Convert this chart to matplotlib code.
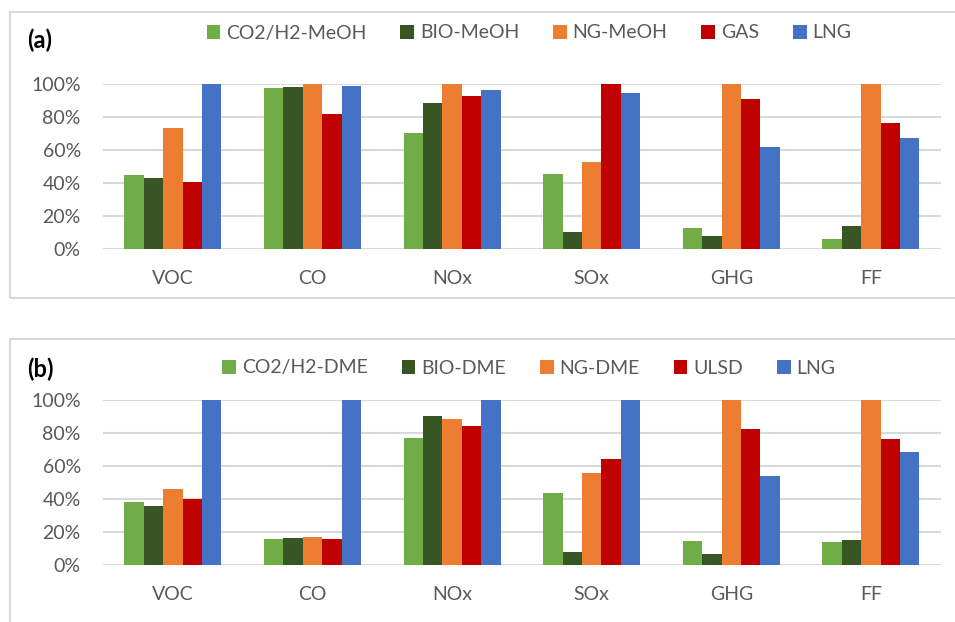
import numpy as np
import matplotlib.pyplot as plt
from matplotlib.patches import Rectangle
from matplotlib.ticker import PercentFormatter

plt.rcParams['font.family'] = ['Lato', 'DejaVu Sans']

categories = ['VOC', 'CO', 'NOx', 'SOx', 'GHG', 'FF']

# panel (a): methanol pathways
labels_a = ['CO2/H2-MeOH', 'BIO-MeOH', 'NG-MeOH', 'GAS', 'LNG']
co2_meoh = [44.7, 97.4, 70.0, 45.5, 12.7, 6.2]
bio_meoh = [43.3, 98.0, 88.5, 10.5, 7.8, 14.3]
ng_meoh = [73.0, 100, 100, 52.7, 100, 100]
gas = [40.4, 81.5, 92.6, 100, 90.9, 76.5]
lng_a = [100, 98.4, 96.2, 94.2, 61.6, 67.2]

# panel (b): DME pathways
labels_b = ['CO2/H2-DME', 'BIO-DME', 'NG-DME', 'ULSD', 'LNG']
co2_dme = [38.4, 16.0, 77.0, 43.8, 14.9, 14.3]
bio_dme = [35.8, 16.4, 90.5, 8.3, 7.1, 15.4]
ng_dme = [46.1, 17.4, 88.7, 55.8, 100, 100]
ulsd = [40.2, 16.0, 84.6, 64.2, 82.6, 76.4]
lng_b = [100, 100, 100, 100, 54.1, 68.7]

colors = ['#70AD47', '#375623', '#ED7D31', '#C00000', '#4472C4']
text_color = '#595959'
grid_color = '#D9D9D9'

W, H = 955, 622
fig = plt.figure(figsize=(W / 100, H / 100), dpi=100)


def px_axes(x0, y_top, x1, y_bot):
    return fig.add_axes([x0 / W, 1 - y_bot / H, (x1 - x0) / W, (y_bot - y_top) / H])


def panel(ax, series, labels, tag, legend_y, tag_y):
    x = np.arange(len(categories))
    width = 0.139
    handles = []
    for i, (vals, lab) in enumerate(zip(series, labels)):
        b = ax.bar(x + (i - 2) * width, np.array(vals) / 100, width,
                   color=colors[i], label=lab, zorder=3)
        handles.append(b)
    ax.set_xlim(-0.5, len(categories) - 0.5)
    ax.set_ylim(0, 1)
    ax.set_yticks(np.arange(0, 1.01, 0.2))
    ax.yaxis.set_major_formatter(PercentFormatter(1.0, decimals=0))
    ax.set_xticks(x)
    ax.set_xticklabels(categories)
    ax.tick_params(length=0, labelsize=14, labelcolor=text_color)
    ax.tick_params(axis='x', pad=15)
    ax.tick_params(axis='y', pad=16)
    ax.grid(axis='y', color=grid_color, linewidth=1.5, zorder=0)
    for s in ax.spines.values():
        s.set_visible(False)
    fig.legend(handles=handles, labels=labels, loc='center',
               bbox_to_anchor=(529 / W, 1 - legend_y / H), ncol=5,
               frameon=False, fontsize=14, labelcolor=text_color,
               handlelength=0.7, handleheight=0.7, handletextpad=0.3,
               columnspacing=1.75)
    fig.text(27 / W, 1 - tag_y / H, tag, fontsize=17, fontweight='bold',
             va='center', ha='left', color='black')


# outer frames around each panel
fig.patches.append(Rectangle((10 / W, 1 - 298 / H), 950 / W, 286 / H,
                             transform=fig.transFigure, fill=False,
                             edgecolor=grid_color, linewidth=1.5))
fig.patches.append(Rectangle((10 / W, 1 - 640 / H), 950 / W, 301 / H,
                             transform=fig.transFigure, fill=False,
                             edgecolor=grid_color, linewidth=1.5))

ax_a = px_axes(103, 83.7, 940.7, 249.3)
panel(ax_a, [co2_meoh, bio_meoh, ng_meoh, gas, lng_a], labels_a, '(a)', 33, 40)

ax_b = px_axes(103, 400.3, 940.7, 565.3)
panel(ax_b, [co2_dme, bio_dme, ng_dme, ulsd, lng_b], labels_b, '(b)', 368, 369)

fig.savefig('out.png', dpi=100)
